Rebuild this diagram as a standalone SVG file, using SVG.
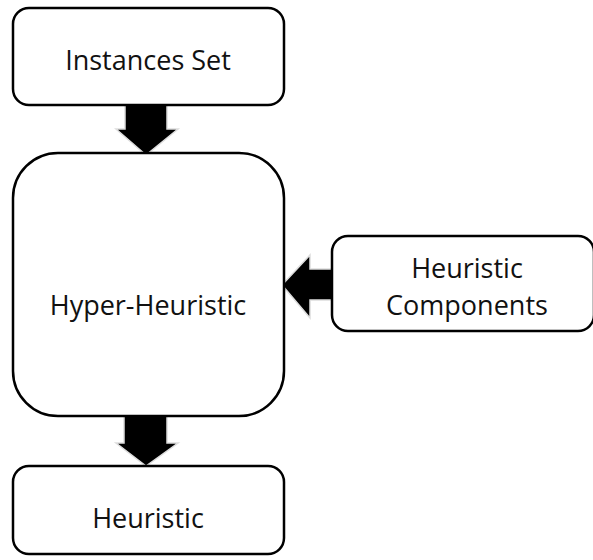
<svg xmlns="http://www.w3.org/2000/svg" width="593" height="560" viewBox="0 0 593 560">
<style>
.box{fill:#fff;stroke:#000;stroke-width:2.5}
.lbl{font-family:"Open Sans","Liberation Sans",sans-serif;font-size:27px;fill:#111;text-anchor:middle}
.arr{fill:#000;stroke:#ddd;stroke-width:1.5;stroke-linejoin:miter}
</style>
<rect width="593" height="560" fill="#fff"/>
<g id="connectors">
<polygon class="arr" points="125,104 167,104 167,129 178,129 146,155 116,129 125,129"/>
<polygon class="arr" points="124,416 167,416 167,443 178,443 146,466 116,443 124,443"/>
<polygon class="arr" points="333,269 310,269 310,255 282,285 310,318 310,300 333,300"/>
</g>
<g id="instances">
<rect class="box" x="13" y="8" width="271" height="97" rx="16"/>
<text class="lbl" x="148" y="70">Instances Set</text>
</g>
<g id="hyper">
<rect class="box" x="13" y="153" width="271" height="263" rx="45"/>
<text class="lbl" x="148" y="315">Hyper-Heuristic</text>
</g>
<g id="components">
<rect class="box" x="332" y="236" width="262" height="95" rx="16"/>
<text class="lbl" x="467" y="278">Heuristic</text>
<text class="lbl" x="467" y="315">Components</text>
</g>
<g id="heuristic">
<rect class="box" x="13" y="466" width="271" height="88" rx="16"/>
<text class="lbl" x="148" y="528">Heuristic</text>
</g>
</svg>
